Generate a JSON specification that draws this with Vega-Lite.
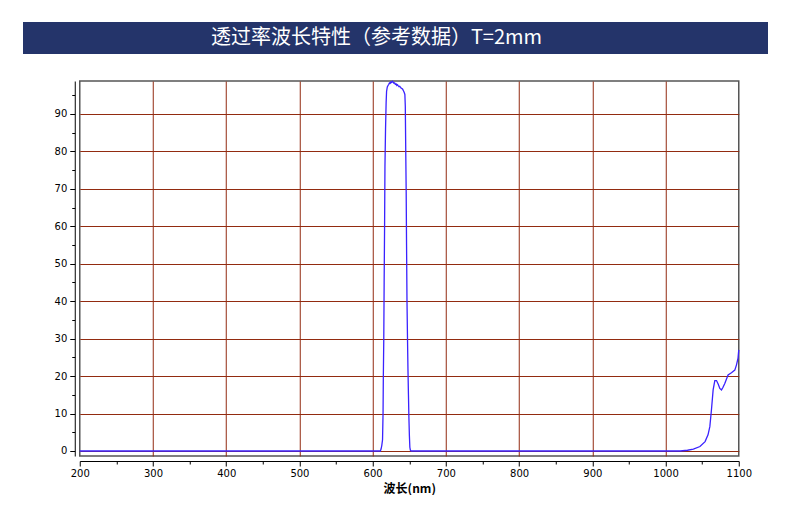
{
  "$schema": "https://vega.github.io/schema/vega-lite/v6.json",
  "background": "white",
  "padding": {"left": 23, "top": 22, "right": -19, "bottom": 0},
  "spacing": 24,
  "center": true,
  "datasets": {
    "banner": [{"title": "透过率波长特性（参考数据）T=2mm"}],
    "curve": [
      {"wl": 200, "t": 0}, {"wl": 400, "t": 0}, {"wl": 610.5, "t": 0},
      {"wl": 611.5, "t": 0.5}, {"wl": 612.5, "t": 1.5}, {"wl": 613.5, "t": 3},
      {"wl": 614.2, "t": 10}, {"wl": 614.6, "t": 20}, {"wl": 615.2, "t": 30},
      {"wl": 615.7, "t": 45}, {"wl": 616.3, "t": 60}, {"wl": 616.8, "t": 76},
      {"wl": 617.6, "t": 86}, {"wl": 618.4, "t": 93}, {"wl": 619.0, "t": 96},
      {"wl": 620, "t": 97.2}, {"wl": 621, "t": 97.6}, {"wl": 622, "t": 97.9},
      {"wl": 623, "t": 98.3}, {"wl": 624, "t": 98.2}, {"wl": 625, "t": 98.6},
      {"wl": 626, "t": 98.4}, {"wl": 627, "t": 98.7}, {"wl": 628, "t": 98.5},
      {"wl": 629, "t": 98.2}, {"wl": 630, "t": 98.3}, {"wl": 631, "t": 97.9},
      {"wl": 632, "t": 98.0}, {"wl": 633, "t": 97.6}, {"wl": 634, "t": 97.8},
      {"wl": 635, "t": 97.5}, {"wl": 636, "t": 97.3}, {"wl": 637, "t": 97.4},
      {"wl": 638, "t": 97.1}, {"wl": 639, "t": 96.9}, {"wl": 640, "t": 96.8},
      {"wl": 641, "t": 96.6}, {"wl": 642, "t": 96.2}, {"wl": 643, "t": 95.8},
      {"wl": 644, "t": 95.2}, {"wl": 644.6, "t": 92}, {"wl": 645.2, "t": 80},
      {"wl": 645.8, "t": 69}, {"wl": 646.3, "t": 55}, {"wl": 646.9, "t": 40},
      {"wl": 647.6, "t": 30}, {"wl": 648.2, "t": 22}, {"wl": 648.9, "t": 15},
      {"wl": 649.5, "t": 9}, {"wl": 650.2, "t": 4}, {"wl": 650.8, "t": 1},
      {"wl": 651.5, "t": 0.2}, {"wl": 652.5, "t": 0}, {"wl": 800, "t": 0},
      {"wl": 1020, "t": 0}, {"wl": 1030, "t": 0.2}, {"wl": 1038, "t": 0.5},
      {"wl": 1047, "t": 1.2}, {"wl": 1054, "t": 2.5}, {"wl": 1058, "t": 4.3},
      {"wl": 1060.5, "t": 6.5}, {"wl": 1062.7, "t": 11}, {"wl": 1065, "t": 16.3},
      {"wl": 1067.3, "t": 18.8}, {"wl": 1069.6, "t": 18.8}, {"wl": 1072, "t": 17.8},
      {"wl": 1074.1, "t": 16.7}, {"wl": 1076.4, "t": 16.3}, {"wl": 1078.5, "t": 17},
      {"wl": 1080.9, "t": 18}, {"wl": 1085.4, "t": 20.3}, {"wl": 1090, "t": 20.9},
      {"wl": 1094.6, "t": 21.6}, {"wl": 1096.9, "t": 23}, {"wl": 1099, "t": 24.8},
      {"wl": 1100, "t": 27}
    ]
  },
  "vconcat": [
    {
      "width": 745,
      "height": 32,
      "view": {"fill": "#24346a", "stroke": null},
      "data": {"name": "banner"},
      "mark": {"type": "text", "color": "white", "font": "Noto Sans CJK SC", "fontSize": 20, "baseline": "middle", "align": "center", "dx": -19},
      "encoding": {
        "text": {"field": "title", "type": "nominal"},
        "y": {"field": "title", "type": "nominal", "axis": {"orient": "right", "title": null, "labels": false, "ticks": false, "domain": false, "grid": false, "minExtent": 41, "maxExtent": 41}}
      }
    },
    {
      "width": 659,
      "height": 375,
      "view": {"stroke": "#555555", "strokeWidth": 1.5},
      "data": {"name": "curve"},
      "mark": {"type": "line", "color": "#3a22ff", "strokeWidth": 1.3},
      "encoding": {
        "x": {
          "field": "wl", "type": "quantitative",
          "scale": {"domain": [200, 1100], "nice": false, "zero": false},
          "axis": {
            "title": "波长(nm)", "format": "d",
            "titleFont": "Noto Sans CJK SC", "titleFontSize": 12, "titleFontWeight": "bold", "titleColor": "#000", "titlePadding": 5,
            "values": [200,250,300,350,400,450,500,550,600,650,700,750,800,850,900,950,1000,1050,1100],
            "labelExpr": "datum.value % 100 === 0 ? datum.label : ''",
            "labelFont": "DejaVu Sans", "labelFontSize": 10, "labelColor": "#000", "labelPadding": 2,
            "labelFlush": false, "labelOverlap": false,
            "offset": 5, "domainColor": "#000", "tickColor": "#000",
            "tickSize": {"condition": {"test": "datum.value % 100 === 0", "value": 5}, "value": 3},
            "grid": true, "gridColor": "#922b10", "gridWidth": 1,
            "gridOpacity": {"condition": {"test": "datum.value % 100 === 0 && datum.value > 200 && datum.value < 1100", "value": 1}, "value": 0}
          }
        },
        "y": {
          "field": "t", "type": "quantitative",
          "scale": {"domain": [-1.34, 98.8], "nice": false, "zero": false},
          "axis": {
            "title": null,
            "values": [0,5,10,15,20,25,30,35,40,45,50,55,60,65,70,75,80,85,90,95],
            "labelExpr": "datum.value % 10 === 0 ? datum.label : ''",
            "labelFont": "DejaVu Sans", "labelFontSize": 10, "labelColor": "#000", "labelPadding": 3,
            "labelFlush": false, "labelOverlap": false,
            "offset": 5, "domainColor": "#000", "tickColor": "#000",
            "tickSize": {"condition": {"test": "datum.value % 10 === 0", "value": 5}, "value": 3},
            "grid": true, "gridColor": "#922b10", "gridWidth": 1,
            "gridOpacity": {"condition": {"test": "datum.value % 10 === 0", "value": 1}, "value": 0}
          }
        }
      }
    }
  ]
}
